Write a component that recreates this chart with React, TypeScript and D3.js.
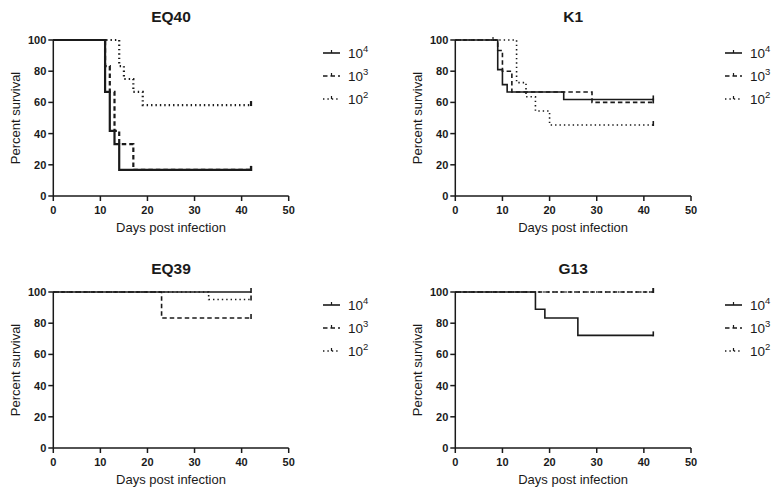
import React from "react";
import * as d3 from "d3";

// ---- data (Kaplan-Meier steps: [day, percent survival]) ----
const xTicks = [0, 10, 20, 30, 40, 50];
const yTicks = [0, 20, 40, 60, 80, 100];
const doseLabels = ["4", "3", "2"]; // 10^4, 10^3, 10^2
const endDay = 42;

const eq40_1e4 = [[0, 100], [11, 66.7], [12, 41.7], [13, 33.3], [14, 16.7]];
const eq40_1e3 = [[0, 100], [11, 83.3], [12, 66.7], [13, 41.7], [14, 33.3], [17, 16.7]];
const eq40_1e2 = [[0, 100], [14, 83.3], [15, 75], [17, 66.7], [19, 58.3]];

const k1_1e4 = [[0, 100], [9, 81], [10, 71.4], [11, 66.7], [23, 61.9]];
const k1_1e3 = [[0, 100], [9, 93.3], [10, 80], [12, 66.7], [29, 60]];
const k1_1e2 = [[0, 100], [13, 72.7], [15, 63.6], [17, 54.5], [20, 45.5]];
const k1_censor1e4 = [8];

const eq39_1e4 = [[0, 100]];
const eq39_1e3 = [[0, 100], [23, 83.3]];
const eq39_1e2 = [[0, 100], [33, 95.2]];

const g13_1e4 = [[0, 100], [17, 88.9], [19, 83.3], [26, 72.2]];
const g13_1e3 = [[0, 100]];
const g13_1e2 = [[0, 100]];

const titles = ["EQ40", "K1", "EQ39", "G13"];

const panelsData = [
  { title: titles[0], series: [eq40_1e4, eq40_1e3, eq40_1e2], censor: [[], [], []], lw: 2.2 },
  { title: titles[1], series: [k1_1e4, k1_1e3, k1_1e2], censor: [k1_censor1e4, [], []], lw: 1.6 },
  { title: titles[2], series: [eq39_1e4, eq39_1e3, eq39_1e2], censor: [[], [], []], lw: 1.6 },
  { title: titles[3], series: [g13_1e4, g13_1e3, g13_1e2], censor: [[], [], []], lw: 1.6 },
];

// ---- layout ----
const layouts = [
  { x0: 53.3, x1: 288.7, y0: 40, y1: 196, legX: 323 },
  { x0: 455.3, x1: 691, y0: 40, y1: 196, legX: 725 },
  { x0: 53.3, x1: 288.7, y0: 292, y1: 448, legX: 323 },
  { x0: 455.3, x1: 691, y0: 292, y1: 448, legX: 725 },
];

const dashes = [null, "4.5,3", "1.4,3"];
const ink = "#1a1a1a";
const FONT = "Liberation Sans, Arial, sans-serif";

function Panel({ p, l }: any) {
  const x = d3.scaleLinear().domain([0, 50]).range([l.x0, l.x1]);
  const y = d3.scaleLinear().domain([0, 100]).range([l.y1, l.y0]);
  const line = d3
    .line<number[]>()
    .x((d) => x(d[0]))
    .y((d) => y(d[1]))
    .curve(d3.curveStepAfter);
  const midY = (l.y0 + l.y1) / 2;
  const midX = (l.x0 + l.x1) / 2;
  const order = [2, 1, 0];
  return (
    <g>
      <text x={midX} y={l.y0 - 18.5} textAnchor="middle" fontFamily={FONT} fontWeight="bold" fontSize={15.5} fill={ink}>
        {p.title}
      </text>
      {order.map((i) => {
        const s = p.series[i];
        const pts = [...s, [endDay, s[s.length - 1][1]]];
        const last = s[s.length - 1][1];
        return (
          <g key={i}>
            <path d={line(pts as any) || ""} fill="none" stroke={ink} strokeWidth={p.lw} strokeDasharray={dashes[i] || undefined} />
            <line x1={x(endDay)} x2={x(endDay)} y1={y(last) - 4} y2={y(last) + 1} stroke={ink} strokeWidth={p.lw} />
            {p.censor[i].map((c: number, k: number) => (
              <line key={k} x1={x(c)} x2={x(c)} y1={y(100) - 3} y2={y(100) + 1} stroke={ink} strokeWidth={1.2} />
            ))}
          </g>
        );
      })}
      <line x1={l.x0} x2={l.x1} y1={l.y1} y2={l.y1} stroke={ink} strokeWidth={1.5} />
      <line x1={l.x0} x2={l.x0} y1={l.y0} y2={l.y1} stroke={ink} strokeWidth={1.5} />
      {xTicks.map((t) => (
        <g key={"x" + t}>
          <line x1={x(t)} x2={x(t)} y1={l.y1} y2={l.y1 + 5} stroke={ink} strokeWidth={1.5} />
          <text x={x(t)} y={l.y1 + 18} textAnchor="middle" fontFamily={FONT} fontWeight="bold" fontSize={11} fill={ink}>
            {t}
          </text>
        </g>
      ))}
      {yTicks.map((t) => (
        <g key={"y" + t}>
          <line x1={l.x0 - 5} x2={l.x0} y1={y(t)} y2={y(t)} stroke={ink} strokeWidth={1.5} />
          <text x={l.x0 - 7} y={y(t) + 4} textAnchor="end" fontFamily={FONT} fontWeight="bold" fontSize={11} fill={ink}>
            {t}
          </text>
        </g>
      ))}
      <text x={midX} y={l.y1 + 36} textAnchor="middle" fontFamily={FONT} fontSize={13} fill={ink}>
        Days post infection
      </text>
      <text
        transform={`translate(${l.x0 - 33},${midY}) rotate(-90)`}
        textAnchor="middle"
        fontFamily={FONT}
        fontSize={13}
        fill={ink}
      >
        Percent survival
      </text>
      {doseLabels.map((lab, i) => {
        const ly = l.y0 + 13 + i * 23;
        return (
          <g key={"leg" + i}>
            <line x1={l.legX} x2={l.legX + 17} y1={ly} y2={ly} stroke={ink} strokeWidth={1.6} strokeDasharray={dashes[i] || undefined} />
            <line x1={l.legX + 8.5} x2={l.legX + 8.5} y1={ly - 3} y2={ly} stroke={ink} strokeWidth={1.2} />
            <text x={l.legX + 25} y={ly + 5} fontFamily={FONT} fontSize={13.5} fill={ink}>
              10
              <tspan dy={-6} fontSize={9.5}>
                {lab}
              </tspan>
            </text>
          </g>
        );
      })}
    </g>
  );
}

export default function App() {
  return (
    <svg width={784} height={494} style={{ position: "absolute", left: 0, top: 0, background: "#fff" }}>
      <rect width={784} height={494} fill="#fff" />
      {panelsData.map((p, i) => (
        <Panel key={i} p={p} l={layouts[i]} />
      ))}
    </svg>
  );
}
